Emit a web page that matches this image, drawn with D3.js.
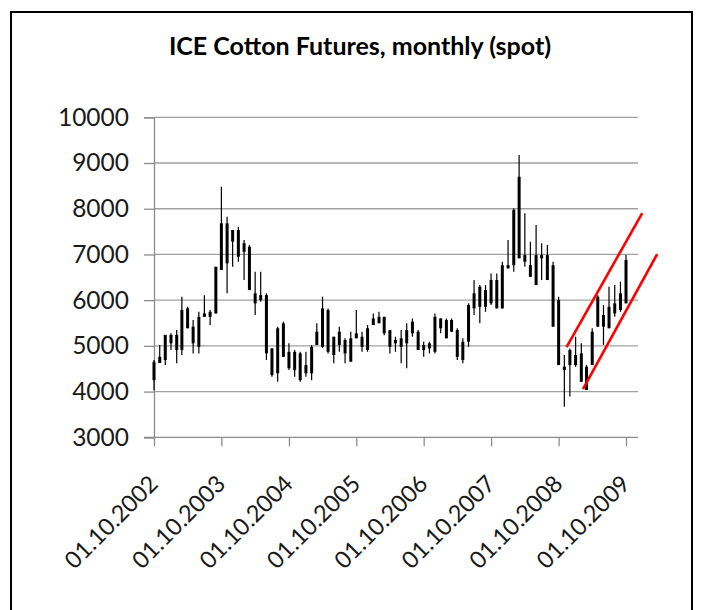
<!DOCTYPE html>
<html>
<head>
<meta charset="utf-8">
<script src="https://cdn.jsdelivr.net/npm/d3@7"></script>
<style>
  body { margin: 0; background: #fff; }
  text { font-family: Lato, "Liberation Sans", sans-serif; }
</style>
</head>
<body>
<div id="root"></div>
<script>
// monthly bars, first one is Oct 2002
const firstMonth = "2002-10-01";

const open = [4250, 4625, 4690, 5240, 4910, 4910, 5820, 5420, 4980, 5635, 5745, 5710,
  6660, 7680, 7280, 7535, 7060, 7170, 6150, 6005, 6110, 4945, 4400, 5490,
  4870, 4470, 4835, 4400, 4400, 5020, 4980, 5785, 4800, 5310, 5130, 4655,
  5165, 5200, 4910, 5455, 5635, 5635, 5345, 5055, 5165, 5055, 5275, 5310,
  4910, 5055, 4870, 5600, 5565, 5310, 5345, 4690, 5090, 5820, 6295, 5855,
  6440, 5820, 6765, 6695, 6765, 8700, 6840, 6765, 6330, 6985, 6985, 6765,
  6005, 4545, 4580, 4800, 4835, 4035, 4580, 5420, 5675, 5385, 5710, 5785,
  5930];
const high = [4690, 5020, 5240, 5275, 5345, 6075, 5855, 5565, 5745, 6110, 5785, 6730,
  8480, 7825, 7535, 7605, 7315, 7205, 6620, 6620, 6150, 4945, 5420, 5530,
  5055, 4910, 4870, 4870, 5020, 5495, 6075, 5820, 5200, 5420, 5165, 5310,
  5785, 5310, 5455, 5710, 5745, 5635, 5345, 5200, 5345, 5495, 5600, 5345,
  5090, 5090, 5710, 5600, 5600, 5600, 5385, 5165, 5930, 6440, 6330, 6330,
  6585, 6585, 6840, 7315, 8010, 9175, 7900, 7280, 7645, 7245, 7205, 6840,
  6075, 4800, 4945, 5200, 5055, 4580, 5385, 6110, 5895, 6295, 6330, 6405,
  6990];
const low = [4030, 4625, 4580, 4910, 4620, 4800, 5385, 4835, 4835, 5635, 5455, 5710,
  6660, 6150, 6730, 6840, 6440, 6220, 5675, 5965, 4690, 4325, 4215, 4760,
  4470, 4325, 4215, 4325, 4250, 5020, 4950, 4835, 4620, 4870, 4620, 4655,
  5165, 4870, 4870, 5455, 5495, 5235, 4835, 4870, 4620, 4510, 5200, 4910,
  4760, 4835, 4835, 5275, 5165, 5310, 4690, 4620, 4980, 5675, 5495, 5745,
  5895, 5820, 5820, 6695, 6620, 6915, 6730, 6510, 6330, 6440, 6440, 5420,
  4580, 3670, 3890, 4545, 4215, 4035, 4580, 5420, 5020, 5385, 5635, 5745,
  5930];
const close = [4650, 4760, 5240, 5055, 5240, 5785, 5385, 5055, 5635, 5710, 5635, 6730,
  7680, 6805, 7535, 6950, 7245, 6220, 5930, 6110, 4835, 4360, 5385, 4760,
  4510, 4870, 4250, 4580, 4980, 5310, 5820, 4870, 5200, 5020, 4835, 5165,
  5275, 4980, 5385, 5600, 5495, 5275, 4980, 5130, 4980, 5345, 5530, 4910,
  5020, 4945, 5635, 5385, 5165, 5565, 4760, 5090, 5895, 6150, 5855, 6220,
  5930, 6440, 5820, 6765, 7975, 6915, 6985, 6510, 6985, 6915, 6440, 5420,
  4580, 4470, 4910, 4580, 4215, 4545, 5310, 6075, 5420, 5855, 5930, 6150,
  6880];

const yTicks = [3000, 4000, 5000, 6000, 7000, 8000, 9000, 10000];
const xTickDates = ["2002-10-01", "2003-10-01", "2004-10-01", "2005-10-01",
  "2006-10-01", "2007-10-01", "2008-10-01", "2009-10-01"];

// hand drawn channel on the right
const upperTrend = [["2008-11-13", 4974], ["2009-12-28", 7906]];
const lowerTrend = [["2009-02-10", 4055], ["2010-03-19", 7009]];

const parse = d3.timeParse("%Y-%m-%d");
const months = d3.timeMonth.range(parse(firstMonth), d3.timeMonth.offset(parse(firstMonth), open.length));
const bars = months.map((m, i) => ({ date: m, o: open[i], h: high[i], l: low[i], c: close[i] }));

const W = 703, H = 610;
const plotLeft = 154, plotRight = 638, plotTop = 117.3, plotBottom = 437.3;

const svg = d3.select("#root")
    .append("svg")
    .attr("width", W)
    .attr("height", H);

svg.append("rect")
    .attr("width", W).attr("height", H)
    .attr("fill", "#fff");

// outer frame
svg.append("rect")
    .attr("x", 11).attr("y", 12)
    .attr("width", 681).attr("height", 640)
    .attr("fill", "none")
    .attr("stroke", "#000")
    .attr("stroke-width", 2);

const x = d3.scaleTime()
    .domain([parse(xTickDates[0]), parse(xTickDates[xTickDates.length - 1])])
    .range([plotLeft, 626]);

const y = d3.scaleLinear()
    .domain([3000, 10000])
    .range([plotBottom, plotTop]);

// gridlines
svg.append("g")
    .selectAll("line")
    .data(yTicks.slice(1))
    .join("line")
    .attr("x1", plotLeft).attr("x2", plotRight)
    .attr("y1", d => y(d)).attr("y2", d => y(d))
    .attr("stroke", "#a0a0a0")
    .attr("stroke-width", 1.3);

// y axis
const yAxis = svg.append("g")
    .attr("transform", `translate(${plotLeft},0)`)
    .call(d3.axisLeft(y).tickValues(yTicks).tickSize(10).tickPadding(15).tickFormat(d3.format("d")));
yAxis.select(".domain").attr("stroke", "#8c8c8c").attr("stroke-width", 1.3);
yAxis.selectAll(".tick line").attr("stroke", "#8c8c8c").attr("stroke-width", 1.3);
yAxis.selectAll("text")
    .attr("font-family", "Lato, sans-serif")
    .attr("font-size", 24.5)
    .attr("fill", "#1a1a1a");

// x axis
const xAxis = svg.append("g")
    .attr("transform", `translate(0,${plotBottom})`)
    .call(d3.axisBottom(x).tickValues(xTickDates.map(parse)).tickSize(9).tickSizeOuter(0)
        .tickFormat(d3.timeFormat("%d.%m.%Y")));
xAxis.select(".domain")
    .attr("d", `M${plotLeft - 10},0H${plotRight}`)
    .attr("stroke", "#8c8c8c").attr("stroke-width", 1.3);
xAxis.selectAll(".tick line").attr("stroke", "#8c8c8c").attr("stroke-width", 1.3);
xAxis.selectAll("text")
    .attr("font-family", "Lato, sans-serif")
    .attr("font-size", 23.5)
    .attr("fill", "#1a1a1a")
    .attr("text-anchor", "end")
    .attr("dy", null)
    .attr("y", 0)
    .attr("transform", "translate(5,48) rotate(-45)");

// bars
const g = svg.append("g");
g.selectAll("line.wick")
    .data(bars)
    .join("line")
    .attr("class", "wick")
    .attr("x1", d => x(d.date)).attr("x2", d => x(d.date))
    .attr("y1", d => y(d.h)).attr("y2", d => y(d.l))
    .attr("stroke", "#000")
    .attr("stroke-width", 1.2);

g.selectAll("rect.body")
    .data(bars)
    .join("rect")
    .attr("class", "body")
    .attr("x", d => x(d.date) - 1.5)
    .attr("width", 3)
    .attr("y", d => y(Math.max(d.o, d.c)))
    .attr("height", d => Math.max(1, Math.abs(y(d.o) - y(d.c))))
    .attr("fill", "#000");

// trend channel
const trendLine = d3.line()
    .x(d => x(parse(d[0])))
    .y(d => y(d[1]));

svg.selectAll("path.trend")
    .data([upperTrend, lowerTrend])
    .join("path")
    .attr("class", "trend")
    .attr("d", trendLine)
    .attr("stroke", "#ff0000")
    .attr("stroke-width", 2.6)
    .attr("fill", "none");

// title
svg.append("text")
    .attr("x", 360)
    .attr("y", 55)
    .attr("text-anchor", "middle")
    .attr("font-family", "Lato, sans-serif")
    .attr("font-weight", "bold")
    .attr("font-size", 25)
    .attr("fill", "#000")
    .text("ICE Cotton Futures, monthly (spot)");
</script>
</body>
</html>
